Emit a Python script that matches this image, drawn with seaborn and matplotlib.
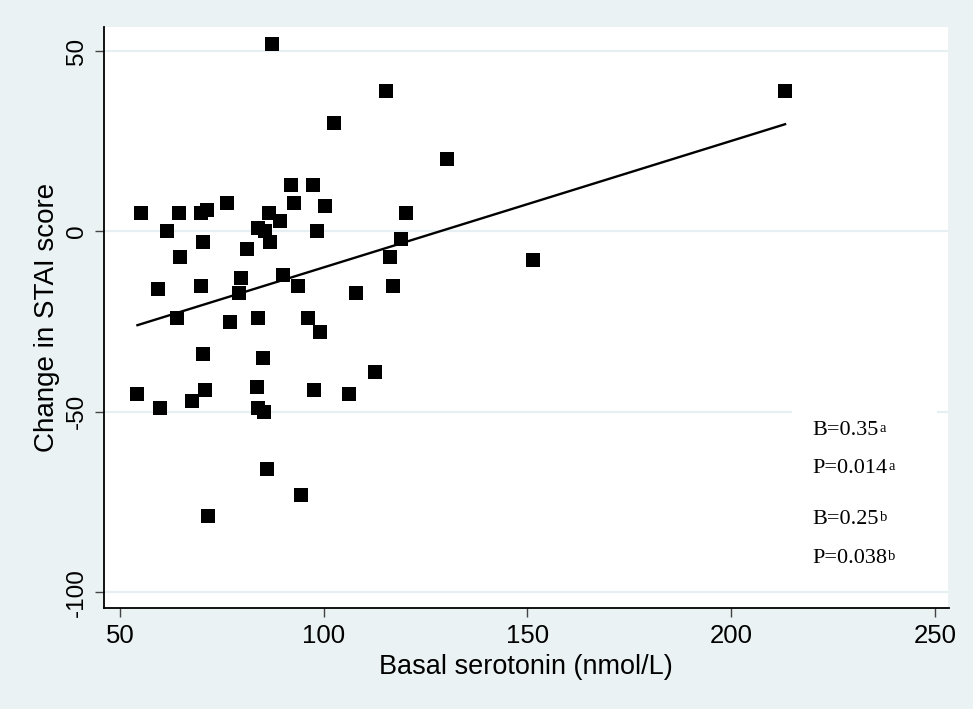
import matplotlib
matplotlib.use("Agg")
import matplotlib.pyplot as plt
import seaborn as sns
import pandas as pd
from matplotlib.patches import Rectangle

# Data
serotonin = [87.4, 115.4, 213.2, 102.5, 130.2, 91.9, 97.5, 76.2, 92.6, 100.4,
             55.3, 64.4, 70.0, 71.3, 86.5, 89.3, 120.2, 61.5, 83.8, 85.6,
             98.4, 119.0, 70.5, 86.9, 64.7, 81.2, 116.3, 151.4, 59.3, 69.9,
             79.8, 79.1, 90.1, 93.8, 108.0, 117.1, 63.9, 77.1, 84.0, 96.2,
             99.1, 70.4, 85.2, 112.6, 54.3, 70.9, 67.8, 83.6, 59.9, 97.7,
             106.1, 83.8, 85.3, 86.1, 94.5, 71.7]
stai_change = [52, 39, 39, 30, 20, 13, 13, 8, 8, 7,
               5, 5, 5, 6, 5, 3, 5, 0, 1, 0,
               0, -2, -3, -3, -7, -5, -7, -8, -16, -15,
               -13, -17, -12, -15, -17, -15, -24, -25, -24, -24,
               -28, -34, -35, -39, -45, -44, -47, -43, -49, -44,
               -45, -49, -50, -66, -73, -79]
x_ticks = [50, 100, 150, 200, 250]
y_ticks = [-100, -50, 0, 50]
stats_lines = [("B=0.35", "a"), ("P=0.014", "a"), ("B=0.25", "b"), ("P=0.038", "b")]

plt.rcParams["axes.unicode_minus"] = False

df = pd.DataFrame({"serotonin": serotonin, "stai": stai_change})

bg = "#EAF2F3"
grid_c = "#E6EFF1"

fig = plt.figure(figsize=(9.73, 7.09), dpi=100, facecolor=bg)
ax = fig.add_axes([104 / 973, (709 - 608.3) / 709, (948.5 - 104) / 973, (608.3 - 27.3) / 709])
ax.set_facecolor("white")
ax.set_axisbelow(True)

sns.scatterplot(data=df, x="serotonin", y="stai", marker="s", s=88, color="black",
                linewidth=0, ax=ax, zorder=3)
sns.regplot(data=df, x="serotonin", y="stai", scatter=False, ci=None, truncate=True,
            line_kws=dict(color="black", lw=1.7, zorder=2), ax=ax)

ax.set_xlim(46.1, 253.3)
ax.set_ylim(-104.5, 56.6)
ax.set_xticks(x_ticks)
ax.set_yticks(y_ticks)
ax.grid(axis="y", color=grid_c, lw=1.6)
ax.grid(axis="x", visible=False)

for s in ["top", "right"]:
    ax.spines[s].set_visible(False)
for s in ["left", "bottom"]:
    ax.spines[s].set_color("black")
    ax.spines[s].set_linewidth(1.3)

font = "Liberation Sans"
ax.tick_params(axis="x", length=6.5, width=1.0, color="#444444", pad=5,
               labelsize=18.5)
ax.tick_params(axis="y", length=6.5, width=1.0, color="#444444", pad=5,
               labelsize=17.5)
for lab in ax.get_xticklabels():
    lab.set_fontfamily(font)
for lab in ax.get_yticklabels():
    lab.set_fontfamily(font)
    lab.set_rotation(90)
    lab.set_va("center")

ax.set_xlabel("Basal serotonin (nmol/L)", fontsize=19.5, family=font, labelpad=4)
ax.set_ylabel("Change in STAI score", fontsize=20, family=font, labelpad=4)

# white box behind the statistics text
ax.add_patch(Rectangle((214.9, -97), 35.6, 49.5, facecolor="white", edgecolor="none", zorder=1))

ys = [-55.3, -65.8, -80.0, -90.8]
for (txt, sup), yv in zip(stats_lines, ys):
    t = ax.text(219.8, yv, txt, fontsize=16, family="Liberation Serif", va="center",
                ha="left", zorder=4)
    ax.annotate(sup, xy=(1.02, 0.96), xycoords=t, fontsize=10.5, family="Liberation Serif",
                va="top", ha="left", zorder=4)

fig.savefig("out.png", dpi=100, facecolor=bg)
